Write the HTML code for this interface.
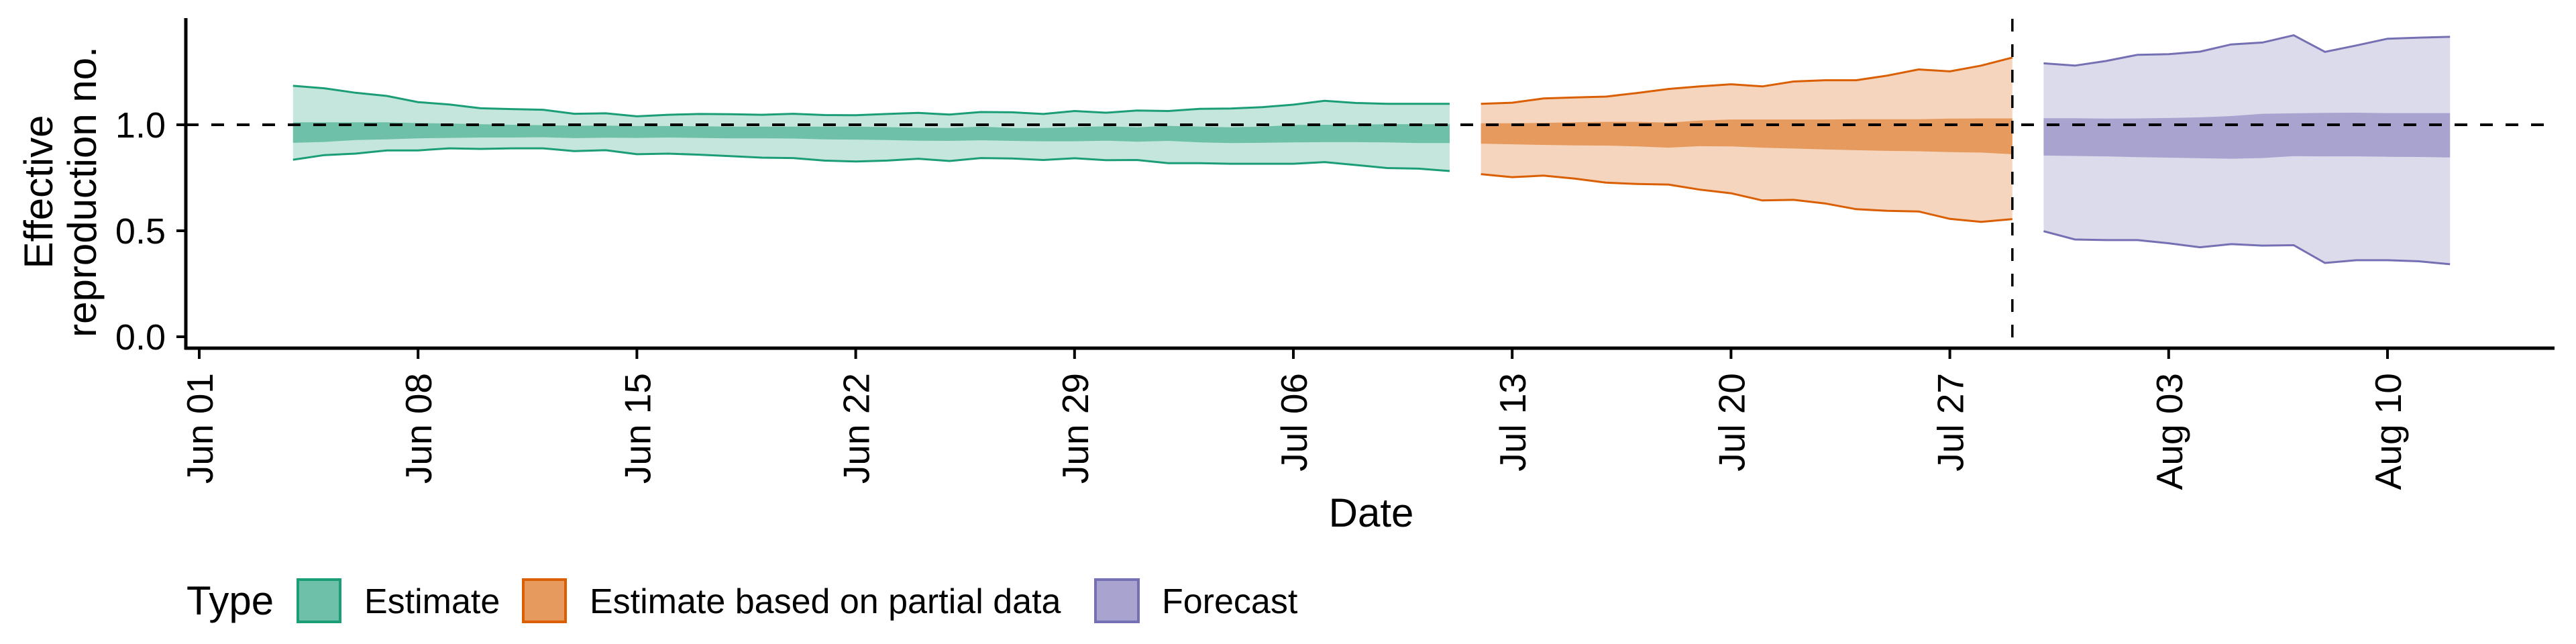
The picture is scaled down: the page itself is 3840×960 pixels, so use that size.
<!DOCTYPE html>
<html><head><meta charset="utf-8"><title>Effective reproduction number</title>
<style>
html,body{margin:0;padding:0;background:#fff;}
svg{display:block;font-family:"Liberation Sans",Arial,sans-serif;}
</style></head>
<body>
<svg id="chart" width="3840" height="960" viewBox="0 0 3840 960" xmlns="http://www.w3.org/2000/svg">
<g id="bands"></g>
<line x1="277" y1="186" x2="3808" y2="186" stroke="#000" stroke-width="4" stroke-dasharray="19,19"/>
<line id="vline" x1="2996" y1="28" x2="2996" y2="518" stroke="#000" stroke-width="3.5" stroke-dasharray="19,19"/>
<line x1="277" y1="27" x2="277" y2="521" stroke="#000" stroke-width="5"/>
<line x1="275" y1="519" x2="3808" y2="519" stroke="#000" stroke-width="5"/>
<g id="yticks"></g>
<g id="xticks"></g>
<g font-size="60" text-anchor="middle">
<text transform="translate(78,286) rotate(-90)">Effective</text>
<text transform="translate(143,286) rotate(-90)">reproduction no.</text>
</g>
<text x="2044" y="785" font-size="60" text-anchor="middle">Date</text>
<g>
<text x="278" y="916" font-size="60">Type</text>
<g>
<rect x="444" y="864" width="63" height="63" fill="#6ec1a8" stroke="#1b9e77" stroke-width="4"/>
<text x="543" y="914" font-size="52">Estimate</text>
</g>
<g>
<rect x="780" y="864" width="63" height="63" fill="#e69a5e" stroke="#d95f02" stroke-width="4"/>
<text x="879" y="914" font-size="52">Estimate based on partial data</text>
</g>
<g>
<rect x="1633" y="864" width="64" height="63" fill="#a8a4cf" stroke="#7570b3" stroke-width="4"/>
<text x="1732" y="914" font-size="52">Forecast</text>
</g>
</g>
</svg>
<script>
// x-axis: days since Jun 01
const tickLabels = ["Jun 01","Jun 08","Jun 15","Jun 22","Jun 29","Jul 06","Jul 13","Jul 20","Jul 27","Aug 03","Aug 10"];
const tickDays = [0,7,14,21,28,35,42,49,56,63,70];
const yTicks = [0.0,0.5,1.0];
const yTickLabels = ["0.0","0.5","1.0"];
const forecastDay = 58;

const estStartDay = 3;
const estUpper = [1.184,1.172,1.151,1.136,1.107,1.096,1.078,1.074,1.071,1.052,1.054,1.040,1.047,1.051,1.050,1.047,1.052,1.046,1.045,
 1.051,1.056,1.048,1.060,1.059,1.051,1.065,1.057,1.067,1.065,1.075,1.077,1.083,1.095,1.113,1.103,1.099,1.099,1.099];
const estLower = [0.835,0.857,0.864,0.879,0.879,0.889,0.886,0.889,0.889,0.876,0.880,0.861,0.864,0.859,0.852,0.845,0.843,0.831,0.827,
 0.831,0.840,0.829,0.843,0.841,0.834,0.842,0.833,0.834,0.819,0.819,0.816,0.816,0.816,0.824,0.810,0.796,0.793,0.782];
const estUpper50 = [1.012,1.012,1.012,1.012,1.008,1.006,1.003,1.000,0.998,0.996,0.996,0.994,0.994,0.993,0.991,0.991,0.991,0.991,0.991,
 0.989,0.986,0.985,0.991,0.985,0.985,0.989,0.993,0.988,0.995,0.991,0.988,0.991,0.999,1.000,1.000,1.003,1.003,1.003];
const estLower50 = [0.915,0.919,0.928,0.931,0.936,0.938,0.940,0.940,0.941,0.937,0.939,0.938,0.940,0.938,0.936,0.936,0.935,0.931,0.930,
 0.928,0.925,0.924,0.927,0.924,0.922,0.922,0.925,0.920,0.924,0.917,0.914,0.915,0.917,0.918,0.918,0.917,0.914,0.914];

const partStartDay = 41;
const partUpper = [1.099,1.104,1.124,1.129,1.133,1.150,1.169,1.181,1.191,1.181,1.204,1.210,1.210,1.232,1.261,1.252,1.279,1.317];
const partLower = [0.767,0.753,0.760,0.746,0.727,0.721,0.718,0.694,0.677,0.643,0.646,0.629,0.602,0.594,0.591,0.556,0.542,0.555];
const partUpper50 = [1.007,1.007,1.009,1.012,1.014,1.014,1.010,1.020,1.025,1.025,1.025,1.025,1.026,1.026,1.026,1.029,1.030,1.030];
const partLower50 = [0.911,0.908,0.905,0.903,0.902,0.898,0.892,0.899,0.898,0.892,0.888,0.884,0.880,0.877,0.875,0.871,0.869,0.861];

const foreStartDay = 59;
const foreUpper = [1.290,1.279,1.301,1.330,1.333,1.345,1.379,1.388,1.422,1.344,1.374,1.406,1.411,1.415];
const foreLower = [0.498,0.459,0.456,0.456,0.441,0.422,0.437,0.430,0.432,0.348,0.361,0.361,0.356,0.342];
const foreUpper50 = [1.031,1.031,1.029,1.030,1.032,1.035,1.041,1.052,1.054,1.056,1.057,1.055,1.055,1.055];
const foreLower50 = [0.855,0.853,0.851,0.847,0.845,0.842,0.840,0.843,0.852,0.851,0.851,0.849,0.848,0.846];

const NS = "http://www.w3.org/2000/svg";
function xScale(d){ return 297 + d*46.6; }
function yScale(v){ return 502 - v*316; }

function poly(start, up, lo){
  const pts = [];
  for(let i=0;i<up.length;i++) pts.push(xScale(start+i).toFixed(1)+","+yScale(up[i]).toFixed(1));
  for(let i=lo.length-1;i>=0;i--) pts.push(xScale(start+i).toFixed(1)+","+yScale(lo[i]).toFixed(1));
  return pts.join(" ");
}
function line(start, arr){
  return arr.map((v,i)=>xScale(start+i).toFixed(1)+","+yScale(v).toFixed(1)).join(" ");
}
const bands = document.getElementById("bands");
function drawSeries(key, start, up, lo, up50, lo50, light, dark, stroke){
  const p1 = document.createElementNS(NS,"polygon");
  
  
  p1.setAttribute("points", poly(start, up, lo));
  p1.setAttribute("fill", light);
  bands.appendChild(p1);
  const p2 = document.createElementNS(NS,"polygon");
  
  
  p2.setAttribute("points", poly(start, up50, lo50));
  p2.setAttribute("fill", dark);
  bands.appendChild(p2);
  const l1 = document.createElementNS(NS,"polyline");
  
  
  l1.setAttribute("points", line(start, up));
  l1.setAttribute("fill","none"); l1.setAttribute("stroke",stroke); l1.setAttribute("stroke-width","3");
  bands.appendChild(l1);
  const l2 = document.createElementNS(NS,"polyline");
  
  
  l2.setAttribute("points", line(start, lo));
  l2.setAttribute("fill","none"); l2.setAttribute("stroke",stroke); l2.setAttribute("stroke-width","3");
  bands.appendChild(l2);
}
drawSeries("estimate", estStartDay, estUpper, estLower, estUpper50, estLower50, "#c5e6dc", "#6ec1a8", "#1b9e77");
drawSeries("partial", partStartDay, partUpper, partLower, partUpper50, partLower50, "#f5d5bd", "#e69a5e", "#d95f02");
drawSeries("forecast", foreStartDay, foreUpper, foreLower, foreUpper50, foreLower50, "#dcdbeb", "#a8a4cf", "#7570b3");

const vl = document.getElementById("vline");
vl.setAttribute("x1", xScale(forecastDay)); vl.setAttribute("x2", xScale(forecastDay));

const yt = document.getElementById("yticks");
yTicks.forEach((v,i)=>{
  const t = document.createElementNS(NS,"line");
  
  
  t.setAttribute("x1",263); t.setAttribute("x2",277);
  t.setAttribute("y1",yScale(v)); t.setAttribute("y2",yScale(v));
  t.setAttribute("stroke","#000"); t.setAttribute("stroke-width","4");
  yt.appendChild(t);
  const tx = document.createElementNS(NS,"text");
  
  
  tx.setAttribute("x",247); tx.setAttribute("y",yScale(v)+19);
  tx.setAttribute("font-size","54"); tx.setAttribute("text-anchor","end");
  tx.textContent = yTickLabels[i];
  yt.appendChild(tx);
});
const xt = document.getElementById("xticks");
tickDays.forEach((d,i)=>{
  const x = xScale(d);
  const t = document.createElementNS(NS,"line");
  
  
  t.setAttribute("x1",x); t.setAttribute("x2",x);
  t.setAttribute("y1",519); t.setAttribute("y2",535);
  t.setAttribute("stroke","#000"); t.setAttribute("stroke-width","4");
  xt.appendChild(t);
  const tx = document.createElementNS(NS,"text");
  
  
  tx.setAttribute("transform","translate("+(x+20)+",556) rotate(-90)");
  tx.setAttribute("font-size","55"); tx.setAttribute("text-anchor","end");
  tx.textContent = tickLabels[i];
  xt.appendChild(tx);
});
</script>
</body></html>
